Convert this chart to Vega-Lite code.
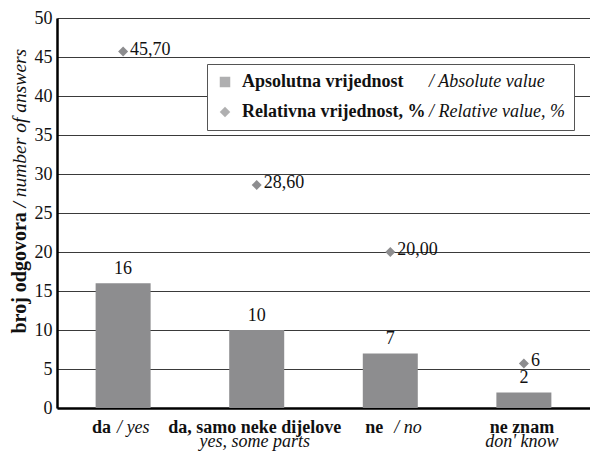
{
  "$schema": "https://vega.github.io/schema/vega-lite/v6.json",
  "width": 533,
  "height": 390,
  "autosize": "none",
  "padding": {"left": 57, "top": 18, "right": 0, "bottom": 44},
  "background": "white",
  "config": {
    "view": {"stroke": null},
    "font": "Liberation Serif",
    "text": {"font": "Liberation Serif"}
  },
  "data": {
    "values": [
      {"cat": "da", "abs": 16, "rel": 45.7, "rel_label": "45,70"},
      {"cat": "da, samo neke dijelove", "abs": 10, "rel": 28.6, "rel_label": "28,60"},
      {"cat": "ne", "abs": 7, "rel": 20.0, "rel_label": "20,00"},
      {"cat": "ne znam", "abs": 2, "rel": 5.71, "rel_label": "6"}
    ]
  },
  "resolve": {"axis": {"x": "independent", "y": "independent"}},
  "layer": [
    {
      "mark": {"type": "bar", "color": "#8d8d8f", "width": 55},
      "encoding": {
        "x": {
          "field": "cat", "type": "nominal", "sort": null,
          "scale": {"paddingInner": 0.59, "paddingOuter": 0.29},
          "axis": {
            "orient": "bottom", "title": null, "ticks": false, "tickSize": 0,
            "domain": true, "domainColor": "#000", "domainWidth": 2.5,
            "labelFont": "Liberation Serif", "labelFontSize": 18, "labelFontWeight": "bold",
            "labelColor": "#111", "labelAngle": 0, "labelPadding": 24, "labelBaseline": "alphabetic",
            "labelLimit": 400,
            "labelAlign": {"condition": {"test": "datum.value == 'da' || datum.value == 'ne'", "value": "right"}, "value": "center"},
            "labelOffset": {"condition": [{"test": "datum.value == 'da'", "value": -12}, {"test": "datum.value == 'ne'", "value": -7}], "value": -2}
          }
        },
        "y": {
          "field": "abs", "type": "quantitative",
          "scale": {"domain": [0, 50], "nice": false},
          "axis": {
            "orient": "left", "values": [0, 5, 10, 15, 20, 25, 30, 35, 40, 45, 50],
            "grid": true, "gridColor": "#3a3a3a", "gridWidth": 1,
            "domain": true, "domainColor": "#000", "domainWidth": 2.5,
            "ticks": false, "tickSize": 0,
            "labelFont": "Liberation Serif", "labelFontSize": 18, "labelColor": "#111", "labelPadding": 5,
            "title": "broj odgovora", "titleFont": "Liberation Serif", "titleFontSize": 20,
            "titleFontWeight": "bold", "titleColor": "#111",
            "titleAngle": -90, "titleAlign": "left", "titleBaseline": "alphabetic",
            "titleX": -32, "titleY": 315
          }
        }
      }
    },
    {
      "mark": {"type": "text", "baseline": "alphabetic", "dy": -9, "fontSize": 18, "color": "#111", "font": "Liberation Serif"},
      "encoding": {
        "x": {"field": "cat", "type": "nominal", "sort": null, "axis": null},
        "y": {"field": "abs", "type": "quantitative", "scale": {"domain": [0, 50], "nice": false}, "axis": null},
        "text": {"field": "abs", "type": "quantitative"}
      }
    },
    {
      "mark": {"type": "point", "filled": true, "color": "#8d8d8f", "size": 100, "shape": "diamond"},
      "encoding": {
        "x": {
          "field": "cat", "type": "nominal", "sort": null,
          "axis": {
            "orient": "bottom", "title": null, "ticks": false, "tickSize": 0, "domain": false, "grid": false,
            "labelFont": "Liberation Serif", "labelFontSize": 18, "labelFontStyle": "italic", "labelFontWeight": "normal",
            "labelColor": "#111", "labelAngle": 0, "labelPadding": 24, "labelLimit": 400,
            "labelExpr": "datum.value == 'da' ? '/ yes' : datum.value == 'ne' ? '/ no' : datum.value == 'ne znam' ? \"don' know\" : 'yes, some parts'",
            "labelBaseline": {"condition": {"test": "datum.value == 'da' || datum.value == 'ne'", "value": "alphabetic"}, "value": "top"},
            "labelAlign": {"condition": {"test": "datum.value == 'da' || datum.value == 'ne'", "value": "left"}, "value": "center"},
            "labelOffset": {"condition": [{"test": "datum.value == 'da'", "value": -6}, {"test": "datum.value == 'ne'", "value": 4}], "value": -2}
          }
        },
        "y": {
          "field": "rel", "type": "quantitative",
          "scale": {"domain": [0, 50], "nice": false},
          "axis": {
            "orient": "left", "labels": false, "ticks": false, "domain": false, "grid": false,
            "title": "/ number of answers", "titleFont": "Liberation Serif", "titleFontSize": 19.5,
            "titleFontWeight": "normal", "titleFontStyle": "italic", "titleColor": "#111",
            "titleAngle": -90, "titleAlign": "left", "titleBaseline": "alphabetic",
            "titleX": -32, "titleY": 189
          }
        },
        "shape": {
          "datum": "Relativna vrijednost, %",
          "scale": {"domain": ["Apsolutna vrijednost", "Relativna vrijednost, %"], "range": ["square", "diamond"]},
          "legend": {
            "orient": "none", "legendX": 150, "legendY": 46, "padding": 9, "title": null,
            "labelFont": "Liberation Serif", "labelFontSize": 18, "labelFontWeight": "bold", "labelColor": "#111",
            "symbolSize": 110, "symbolFillColor": "#8d8d8f", "symbolStrokeWidth": 0,
            "labelOffset": 8, "rowPadding": 12, "zindex": 3, "labelLimit": 400
          }
        },
        "opacity": {
          "datum": "/ Relative value, %",
          "scale": {"domain": ["/ Absolute value", "/ Relative value, %"], "range": [1, 1]},
          "legend": {
            "orient": "none", "legendX": 150, "legendY": 46, "padding": 9, "title": null,
            "labelFont": "Liberation Serif", "labelFontSize": 18, "labelFontStyle": "italic", "labelColor": "#111",
            "symbolSize": 0, "symbolOpacity": 0, "symbolStrokeWidth": 0,
            "labelOffset": 195, "rowPadding": 12, "labelLimit": 500,
            "fillColor": "white", "strokeColor": "#555", "zindex": 1
          }
        }
      }
    },
    {
      "mark": {"type": "text", "align": "left", "baseline": "middle", "dx": 7, "dy": -2, "fontSize": 18, "color": "#111", "font": "Liberation Serif"},
      "encoding": {
        "x": {"field": "cat", "type": "nominal", "sort": null, "axis": null},
        "y": {"field": "rel", "type": "quantitative", "scale": {"domain": [0, 50], "nice": false}, "axis": null},
        "text": {"field": "rel_label", "type": "nominal"}
      }
    }
  ]
}
